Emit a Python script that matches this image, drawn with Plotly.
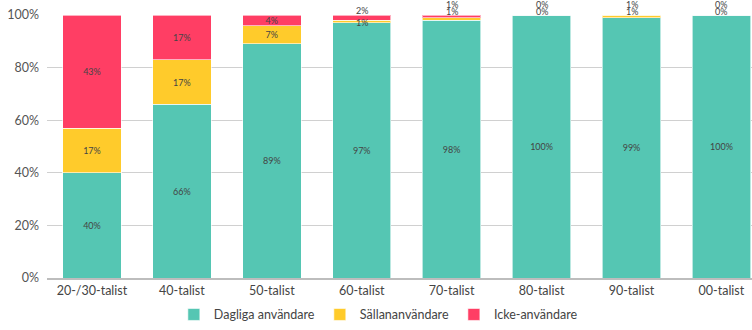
import plotly.graph_objects as go

categories = ["20-/30-talist", "40-talist", "50-talist", "60-talist", "70-talist", "80-talist", "90-talist", "00-talist"]
dagliga = [40, 66, 89, 97, 98, 100, 99, 100]
sallan = [17, 17, 7, 1, 1, 0, 1, 0]
icke = [43, 17, 4, 2, 1, 0, 1, 0]
y_ticks = [0, 20, 40, 60, 80, 100]

series = [
    ("Dagliga användare", dagliga, "#55C6B3"),
    ("Sällananvändare", sallan, "#FFCB2B"),
    ("Icke-användare", icke, "#FF3E64"),
]

FONT = "Lato, 'Noto Sans', sans-serif"
LBL = dict(size=9, color="#444444", family=FONT)

fig = go.Figure()
for name, vals, col in series:
    txt = [f"{v}%" if v >= 3 else "" for v in vals]
    fig.add_trace(go.Bar(
        x=categories, y=vals, name=name, marker_color=col,
        marker_line=dict(color="rgba(255,255,255,0.6)", width=1),
        text=txt, textposition="inside", insidetextanchor="middle",
        textangle=0, insidetextfont=LBL, hoverinfo="skip",
    ))

# labels for tiny segments above/at top of the bars
for i, c in enumerate(categories):
    s, n = sallan[i], icke[i]
    if s >= 3 and n >= 3:
        continue
    if s + n < 3:
        fig.add_annotation(x=c, y=100, text=f"{n}%", showarrow=False,
                           yanchor="middle", yshift=11, font=LBL)
        fig.add_annotation(x=c, y=100, text=f"{s}%", showarrow=False,
                           yanchor="middle", yshift=4, font=LBL)
    else:
        if n < 3:
            fig.add_annotation(x=c, y=100, text=f"{n}%", showarrow=False,
                               yanchor="middle", yshift=5, font=LBL)
        if s < 3:
            fig.add_annotation(x=c, y=100, text=f"{s}%", showarrow=False,
                               yanchor="middle", yshift=-7, font=LBL)

fig.update_layout(
    barmode="stack", bargap=0.35,
    width=752, height=330,
    margin=dict(l=47, r=0, t=15, b=45),
    paper_bgcolor="white", plot_bgcolor="white",
    font=dict(family=FONT, size=12, color="#555555"),
    uniformtext=dict(minsize=9, mode="show"),
    legend=dict(orientation="h", x=0.47, xanchor="center", y=-0.14, yanchor="middle",
                font=dict(size=12.5, color="#444444"), itemwidth=30, traceorder="normal"),
    showlegend=True,
)
fig.update_xaxes(range=[-0.5, 7.34], showgrid=False, showline=True, linecolor="#BDBDBD",
                 linewidth=1.5, ticks="", tickfont=dict(size=12.5, color="#444444"))
fig.update_yaxes(range=[0, 100], tickvals=y_ticks, ticktext=[f"{v}%" for v in y_ticks],
                 showgrid=True, gridcolor="#D0D0D0", gridwidth=1, zeroline=False,
                 ticks="", ticklabelstandoff=7, tickfont=dict(size=12.5, color="#555555"))

fig.write_html("out.html")
